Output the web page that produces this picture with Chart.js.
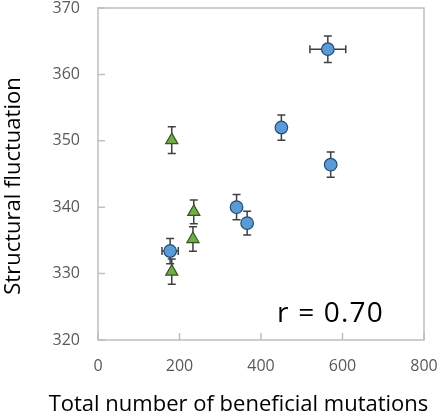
<!DOCTYPE html>
<html>
<head>
<meta charset="utf-8">
<script src="https://cdn.jsdelivr.net/npm/chart.js@4"></script>
<style>
html,body{margin:0;padding:0;background:#fff;}
#wrap{width:440px;height:413px;position:relative;}
</style>
</head>
<body>
<div id="wrap"><canvas id="c" width="440" height="413"></canvas></div>
<script>
const xTicks = [0, 200, 400, 600, 800];
const yTicks = [320, 330, 340, 350, 360, 370];

const blueX    = [564, 450, 571, 340, 366, 177];
const blueY    = [363.8, 352.0, 346.4, 340.0, 337.6, 333.4];
const blueYErr = [2.0, 1.9, 1.9, 1.9, 1.8, 1.9];
const blueXErr = [44, 0, 0, 0, 0, 20];

const greenX    = [181, 235, 233, 181];
const greenY    = [350.1, 339.3, 335.2, 330.3];
const greenYErr = [2.0, 1.8, 1.85, 1.9];
const greenXErr = [0, 0, 0, 0];

const xTitle = "Total number of beneficial mutations";
const yTitle = "Structural fluctuation";
const rText = "r = 0.70";

function pts(xs, ys, xe, ye) {
  return xs.map((x, i) => ({x: x, y: ys[i], xErr: xe[i], yErr: ye[i]}));
}

const errorBars = {
  id: 'errorBars',
  beforeDatasetsDraw(chart) {
    const ctx = chart.ctx, xs = chart.scales.x, ys = chart.scales.y;
    ctx.save();
    ctx.strokeStyle = '#404040';
    ctx.lineWidth = 1.5;
    const cap = 4;
    chart.data.datasets.forEach(ds => {
      ds.data.forEach(p => {
        const px = xs.getPixelForValue(p.x), py = ys.getPixelForValue(p.y);
        if (p.yErr) {
          const t = ys.getPixelForValue(p.y + p.yErr), b = ys.getPixelForValue(p.y - p.yErr);
          ctx.beginPath();
          ctx.moveTo(px, t); ctx.lineTo(px, b);
          ctx.moveTo(px - cap, t); ctx.lineTo(px + cap, t);
          ctx.moveTo(px - cap, b); ctx.lineTo(px + cap, b);
          ctx.stroke();
        }
        if (p.xErr) {
          const l = xs.getPixelForValue(p.x - p.xErr), r = xs.getPixelForValue(p.x + p.xErr);
          ctx.beginPath();
          ctx.moveTo(l, py); ctx.lineTo(r, py);
          ctx.moveTo(l, py - cap); ctx.lineTo(l, py + cap);
          ctx.moveTo(r, py - cap); ctx.lineTo(r, py + cap);
          ctx.stroke();
        }
      });
    });
    ctx.restore();
  }
};

const frame = {
  id: 'frame',
  beforeDatasetsDraw(chart) {
    const ctx = chart.ctx, a = chart.chartArea, xs = chart.scales.x, ys = chart.scales.y;
    ctx.save();
    ctx.strokeStyle = '#bfbfbf';
    ctx.lineWidth = 1.5;
    ctx.strokeRect(a.left, a.top, a.right - a.left, a.bottom - a.top);
    ctx.beginPath();
    const tl = 7;
    xTicks.forEach(v => {
      const px = xs.getPixelForValue(v);
      ctx.moveTo(px, a.bottom); ctx.lineTo(px, a.bottom - tl);
    });
    yTicks.forEach(v => {
      const py = ys.getPixelForValue(v);
      ctx.moveTo(a.left, py); ctx.lineTo(a.left + tl, py);
    });
    ctx.stroke();
    ctx.restore();
  },
  afterDraw(chart) {
    const ctx = chart.ctx, a = chart.chartArea;
    ctx.save();
    ctx.fillStyle = '#000';
    ctx.textBaseline = 'alphabetic';
    // r annotation
    ctx.font = '28px "Open Sans"';
    ctx.textAlign = 'right';
    try { ctx.letterSpacing = '1.2px'; } catch (e) {}
    ctx.fillText(rText, a.right - 40, a.bottom - 18);
    try { ctx.letterSpacing = '0px'; } catch (e) {}
    // axis titles
    ctx.font = '22px "Open Sans"';
    ctx.textAlign = 'center';
    ctx.fillText(xTitle, 238.5, 410.5);
    ctx.translate(19.5, 186);
    ctx.rotate(-Math.PI / 2);
    ctx.fillText(yTitle, 0, 0);
    ctx.restore();
  }
};

new Chart(document.getElementById('c'), {
  type: 'scatter',
  data: {
    datasets: [
      {
        label: 'blue',
        data: pts(blueX, blueY, blueXErr, blueYErr),
        pointStyle: 'circle',
        pointRadius: 6.3,
        backgroundColor: '#5b9bd5',
        borderColor: '#1f4e79',
        borderWidth: 1.2
      },
      {
        label: 'green',
        data: pts(greenX, greenY, greenXErr, greenYErr),
        pointStyle: 'triangle',
        pointRadius: 7,
        backgroundColor: '#70ad47',
        borderColor: '#375623',
        borderWidth: 1.2
      }
    ]
  },
  options: {
    responsive: false,
    animation: false,
    events: [],
    layout: { autoPadding: false, padding: { top: 8, right: 16, left: 0, bottom: 0 } },
    plugins: { legend: { display: false }, tooltip: { enabled: false } },
    scales: {
      x: {
        type: 'linear', min: 0, max: 800,
        afterFit(s) { s.height = 73; s.paddingLeft = 0; s.paddingRight = 0; },
        grid: { display: false, drawTicks: false },
        border: { display: false },
        ticks: { stepSize: 200, padding: 17, color: '#595959', font: { family: 'Open Sans', size: 16 } },
        title: { display: false }
      },
      y: {
        type: 'linear', min: 320, max: 370,
        afterFit(s) { s.width = 98; s.paddingTop = 0; s.paddingBottom = 0; },
        grid: { display: false, drawTicks: false },
        border: { display: false },
        ticks: { stepSize: 10, padding: 18, color: '#595959', font: { family: 'Open Sans', size: 16 } },
        title: { display: false }
      }
    }
  },
  plugins: [errorBars, frame]
});
</script>
</body>
</html>
